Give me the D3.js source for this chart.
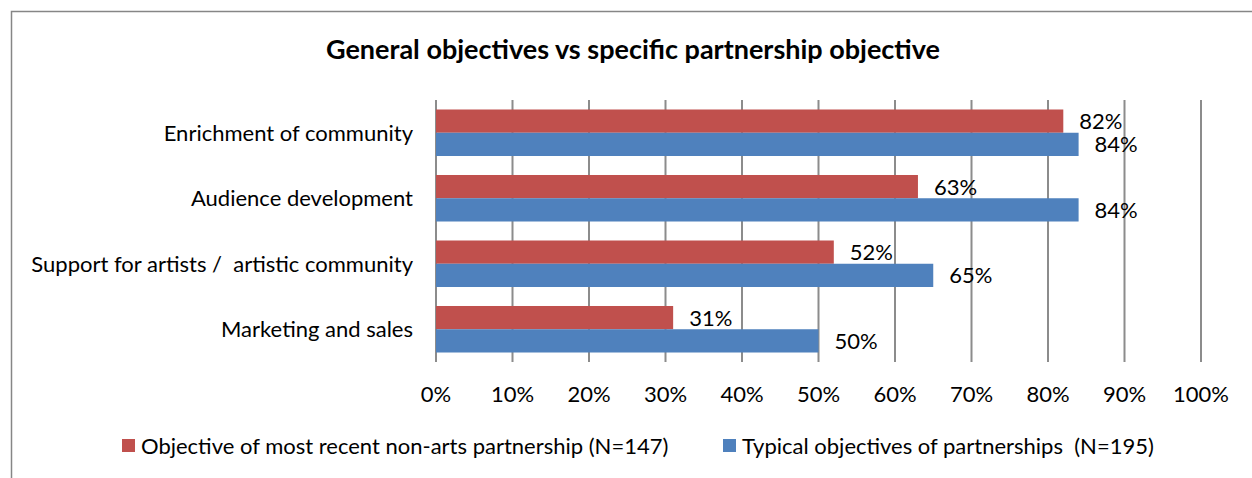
<!DOCTYPE html>
<html>
<head>
<meta charset="utf-8">
<script src="https://cdn.jsdelivr.net/npm/d3@7"></script>
<style>
  body { margin: 0; background: #fff; }
  text { font-family: Lato, "Open Sans", sans-serif; fill: #000; white-space: pre; }
</style>
</head>
<body>
<div id="root"></div>
<script>
const categories = ['Enrichment of community', 'Audience development',
                    'Support for artists /  artistic community', 'Marketing and sales'];
const recentValues = [82, 63, 52, 31];
const typicalValues = [84, 84, 65, 50];
const seriesNames = ['Objective of most recent non-arts partnership (N=147)',
                     'Typical objectives of partnerships  (N=195)'];
const tickValues = [0, 10, 20, 30, 40, 50, 60, 70, 80, 90, 100];

const colors = ['#C0504D', '#4F81BD'];
const w = 1252;
const h = 478;
const plotLeft = 436, plotRight = 1201, plotTop = 100, plotBottom = 362;

const svg = d3.select('#root')
  .append('svg')
  .attr('width', w)
  .attr('height', h);

// chart frame (runs off the right and bottom of the picture)
svg.append('rect')
  .attr('x', 11.5)
  .attr('y', 11.5)
  .attr('width', 1300)
  .attr('height', 500)
  .attr('fill', 'none')
  .attr('stroke', '#868686')
  .attr('stroke-width', 1.5);

svg.append('text')
  .attr('x', 633)
  .attr('y', 59)
  .attr('text-anchor', 'middle')
  .attr('font-size', '27px')
  .attr('font-weight', 'bold')
  .text('General objectives vs specific partnership objective');

const x = d3.scaleLinear().domain([0, 100]).range([plotLeft, plotRight]);
const y = d3.scaleBand().domain(categories).range([plotTop, plotBottom]).paddingInner(0.29).paddingOuter(0.145);
const sub = d3.scaleBand().domain([0, 1]).range([0, y.bandwidth()]);

// gridlines
svg.selectAll('line.grid')
  .data(tickValues)
  .enter()
  .append('line')
  .attr('class', 'grid')
  .attr('x1', d => x(d))
  .attr('x2', d => x(d))
  .attr('y1', plotTop)
  .attr('y2', plotBottom)
  .attr('stroke', '#8c8c8c')
  .attr('stroke-width', 2);

// x tick labels
svg.selectAll('text.tick')
  .data(tickValues)
  .enter()
  .append('text')
  .attr('class', 'tick')
  .attr('x', d => x(d))
  .attr('y', 402)
  .attr('text-anchor', 'middle')
  .attr('font-size', '22px')
  .text(d => d + '%');

// category labels
svg.selectAll('text.cat')
  .data(categories)
  .enter()
  .append('text')
  .attr('class', 'cat')
  .attr('x', 413)
  .attr('y', d => y(d) + y.bandwidth() / 2 + 8)
  .attr('text-anchor', 'end')
  .attr('font-size', '22px')
  .text(d => d);

const series = [recentValues, typicalValues];
series.forEach((vals, s) => {
  const g = svg.append('g');
  g.selectAll('rect')
    .data(vals)
    .enter()
    .append('rect')
    .attr('x', x(0))
    .attr('y', (d, i) => y(categories[i]) + sub(s))
    .attr('width', d => x(d) - x(0))
    .attr('height', sub.bandwidth())
    .attr('fill', colors[s]);

  g.selectAll('text')
    .data(vals)
    .enter()
    .append('text')
    .attr('x', d => x(d) + 16)
    .attr('y', (d, i) => y(categories[i]) + sub(s) + sub.bandwidth() / 2 + 8)
    .attr('font-size', '22px')
    .text(d => d + '%');
});

// legend
const legendX = [122, 723];
seriesNames.forEach((name, s) => {
  svg.append('rect')
    .attr('x', legendX[s])
    .attr('y', 439)
    .attr('width', 13)
    .attr('height', 13)
    .attr('fill', colors[s]);
  svg.append('text')
    .attr('x', legendX[s] + 19)
    .attr('y', 454)
    .attr('font-size', '22px')
    .text(name);
});
</script>
</body>
</html>
